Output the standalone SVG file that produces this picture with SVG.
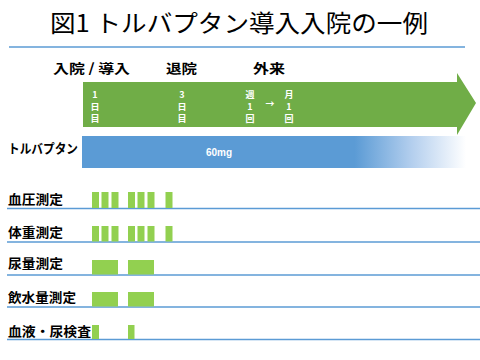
<svg xmlns="http://www.w3.org/2000/svg" width="480" height="360" viewBox="0 0 480 360">
<style>
.t{font-family:"Noto Sans CJK JP","Noto Sans",sans-serif;}
.lbl{font-family:"Noto Sans CJK JP","Noto Sans",sans-serif;font-size:13px;font-weight:bold;fill:#000;}
.ar{font-family:"Noto Sans CJK JP","Noto Sans",sans-serif;font-size:9px;font-weight:bold;fill:#fff;text-anchor:middle;}
.rule{stroke:#5B9BD5;stroke-width:1.5;fill:none;}
.bar{fill:#92D050;}
</style>
<defs>
<linearGradient id="fade" x1="82" y1="0" x2="466" y2="0" gradientUnits="userSpaceOnUse">
<stop offset="0" stop-color="#5B9BD5"/>
<stop offset="0.71" stop-color="#5B9BD5"/>
<stop offset="0.86" stop-color="#B4CFEE"/>
<stop offset="1" stop-color="#FFFFFF"/>
</linearGradient>
</defs>
<rect width="480" height="360" fill="#fff"/>
<g id="title">
<text class="t" x="239" y="32" font-size="24" text-anchor="middle" fill="#000" textLength="378" lengthAdjust="spacingAndGlyphs">図1 トルバプタン導入入院の一例</text>
<line class="rule" x1="9" y1="47" x2="465" y2="47"/>
</g>
<g id="phases">
<text class="lbl" x="53" y="73" textLength="77" lengthAdjust="spacingAndGlyphs">入院 / 導入</text>
<text class="lbl" x="166" y="73" textLength="31" lengthAdjust="spacingAndGlyphs">退院</text>
<text class="lbl" x="253" y="73" textLength="32" lengthAdjust="spacingAndGlyphs">外来</text>
</g>
<g id="timeline">
<polygon points="83,82 457,82 457,73 476,103 457,135 457,127 83,127" fill="#70AD47"/>
<text class="ar" x="95" y="98">1</text><text class="ar" x="95" y="110">日</text><text class="ar" x="95" y="122">目</text>
<text class="ar" x="182" y="98">3</text><text class="ar" x="182" y="110">日</text><text class="ar" x="182" y="122">目</text>
<text class="ar" x="250" y="98">週</text><text class="ar" x="250" y="110">1</text><text class="ar" x="250" y="122">回</text>
<text class="ar" x="270" y="107" font-size="11">→</text>
<text class="ar" x="289" y="98">月</text><text class="ar" x="289" y="110">1</text><text class="ar" x="289" y="122">回</text>
</g>
<g id="tolvaptan">
<text class="lbl" x="8" y="153" textLength="70" lengthAdjust="spacingAndGlyphs">トルバプタン</text>
<rect x="82" y="136" width="384" height="32" fill="url(#fade)"/>
<text x="219" y="156" font-family="'Liberation Sans','Noto Sans',sans-serif" font-size="10" font-weight="bold" fill="#fff" text-anchor="middle">60mg</text>
</g>
<g id="row-bp">
<text class="lbl" x="8" y="204" textLength="55" lengthAdjust="spacingAndGlyphs">血圧測定</text>
<line class="rule" x1="7" y1="208.5" x2="480" y2="208.5"/>
<rect class="bar" x="92" y="192" width="7" height="16"/>
<rect class="bar" x="101.5" y="192" width="7" height="16"/>
<rect class="bar" x="111.5" y="192" width="7" height="16"/>
<rect class="bar" x="128" y="192" width="7" height="16"/>
<rect class="bar" x="137.5" y="192" width="7" height="16"/>
<rect class="bar" x="147.5" y="192" width="7" height="16"/>
<rect class="bar" x="165.5" y="192" width="7" height="16"/>
</g>
<g id="row-weight">
<text class="lbl" x="8" y="237" textLength="55" lengthAdjust="spacingAndGlyphs">体重測定</text>
<line class="rule" x1="7" y1="242" x2="480" y2="242"/>
<rect class="bar" x="92" y="226" width="7" height="15.5"/>
<rect class="bar" x="101.5" y="226" width="7" height="15.5"/>
<rect class="bar" x="111.5" y="226" width="7" height="15.5"/>
<rect class="bar" x="128" y="226" width="7" height="15.5"/>
<rect class="bar" x="137.5" y="226" width="7" height="15.5"/>
<rect class="bar" x="147.5" y="226" width="7" height="15.5"/>
<rect class="bar" x="165.5" y="226" width="7" height="15.5"/>
</g>
<g id="row-urine">
<text class="lbl" x="8" y="268" textLength="55" lengthAdjust="spacingAndGlyphs">尿量測定</text>
<line class="rule" x1="7" y1="275" x2="480" y2="275"/>
<rect class="bar" x="92" y="260" width="26" height="14.5"/>
<rect class="bar" x="128" y="260" width="26" height="14.5"/>
</g>
<g id="row-water">
<text class="lbl" x="8" y="302" textLength="68" lengthAdjust="spacingAndGlyphs">飲水量測定</text>
<line class="rule" x1="7" y1="307" x2="480" y2="307"/>
<rect class="bar" x="92" y="292" width="26" height="14.5"/>
<rect class="bar" x="128" y="292" width="26" height="14.5"/>
</g>
<g id="row-blood">
<text class="lbl" x="8" y="336" textLength="83" lengthAdjust="spacingAndGlyphs">血液・尿検査</text>
<line class="rule" x1="7" y1="339.5" x2="480" y2="339.5"/>
<rect class="bar" x="92" y="325" width="7" height="14"/>
<rect class="bar" x="128" y="325" width="6.5" height="14"/>
</g>
</svg>
